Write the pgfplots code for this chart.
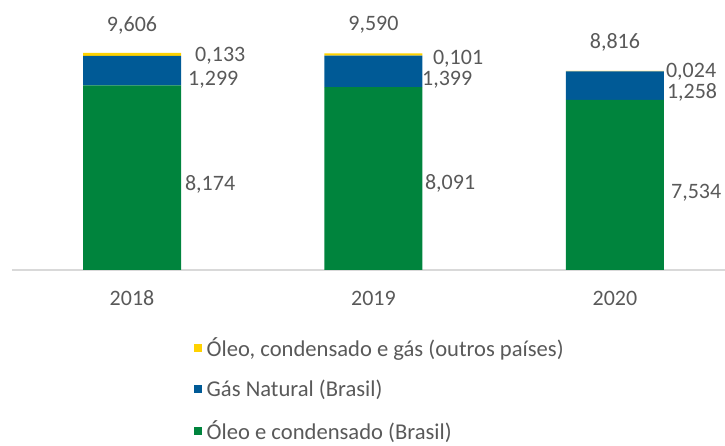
\documentclass[border=0pt]{standalone}
\usepackage{pgfplots}
\pgfplotsset{compat=1.18}
\usepackage{fontspec}
\setmainfont{Carlito}
\definecolor{cgreen}{HTML}{00843D}
\definecolor{cblue}{HTML}{005A96}
\definecolor{cyellow}{HTML}{FFD200}
\definecolor{ctext}{HTML}{595959}
\definecolor{caxis}{HTML}{D9D9D9}
\tikzset{lbl/.style={inner sep=0pt, font=\fontsize{22}{26}\selectfont, text=ctext}}
\begin{document}
\begin{tikzpicture}
\begin{axis}[
 at={(0pt,0pt)}, anchor=south west,
 scale only axis, width=713pt, height=270pt,
 xmin=-0.497, xmax=2.456, ymin=0, ymax=11.95,
 ybar stacked, bar width=98pt,
 axis y line=none, axis x line*=bottom,
 x axis line style={caxis, line width=1.2pt, -},
 xtick={0,1,2}, xticklabels={2018,2019,2020},
 major tick length=0pt,
 xticklabel style={anchor=base, yshift=-35pt, font=\fontsize{22}{26}\selectfont, text=ctext},
 legend style={at={(0.2553,-0.242)}, anchor=north west, draw=none, fill=none, inner sep=0pt, row sep=18.5pt, font=\fontsize{22.6}{26}\selectfont, text=ctext, nodes={inner xsep=2.5pt}},
 legend cell align=left,
 reverse legend,
 legend image code/.code={\fill[#1] (0pt,-4pt) rectangle (8pt,4pt); \path (10pt,0pt);},
 clip=false,
]
\addplot[fill=cgreen, draw=none] coordinates {(0,8.174) (1,8.091) (2,7.534)};
\addlegendentry{Óleo e condensado (Brasil)}
\addplot[fill=cblue, draw=none] coordinates {(0,1.299) (1,1.399) (2,1.258)};
\addlegendentry{Gás Natural (Brasil)}
\addplot[fill=cyellow, draw=none] coordinates {(0,0.133) (1,0.101) (2,0.024)};
\addlegendentry{Óleo, condensado e gás (outros países)}

\node[lbl, anchor=center] at (axis cs:0,10.84) {9,606};
\node[lbl, anchor=center] at (axis cs:1,10.84) {9,590};
\node[lbl, anchor=center] at (axis cs:2,10.09) {8,816};
\node[lbl, anchor=west] at (axis cs:0.261,9.49) {0,133};
\node[lbl, anchor=west] at (axis cs:0.232,8.41) {1,299};
\node[lbl, anchor=west] at (axis cs:0.219,3.81) {8,174};
\node[lbl, anchor=west] at (axis cs:1.246,9.36) {0,101};
\node[lbl, anchor=west] at (axis cs:1.201,8.42) {1,399};
\node[lbl, anchor=west] at (axis cs:1.213,3.85) {8,091};
\node[lbl, anchor=west] at (axis cs:2.211,8.78) {0,024};
\node[lbl, anchor=west] at (axis cs:2.215,7.86) {1,258};
\node[lbl, anchor=west] at (axis cs:2.232,3.41) {7,534};
\end{axis}
\pgfresetboundingbox
\useasboundingbox (-12pt,-176pt) rectangle (713pt,270pt);
\end{tikzpicture}
\end{document}
